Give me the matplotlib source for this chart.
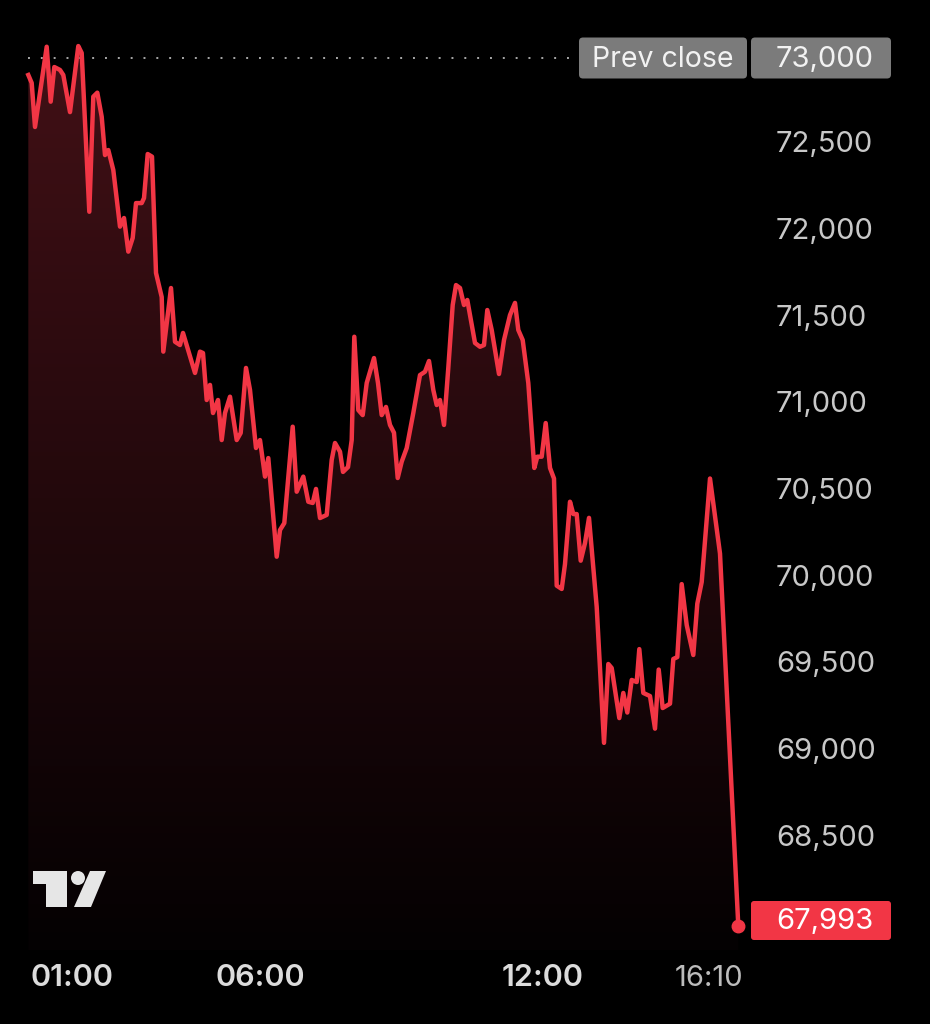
import numpy as np
import matplotlib
matplotlib.use("Agg")
import matplotlib.pyplot as plt
from matplotlib.patches import FancyBboxPatch, Rectangle, Circle, Polygon

plt.rcParams["font.family"] = ["Inter", "DejaVu Sans"]

# Data (bar position along the time axis, price)
bar_pos = [28.3, 31.7, 35, 46.7, 50.7, 54.3, 60, 63.3, 70, 78.3, 81.7, 89.3, 93.3, 97.3,
           101.7, 105, 108.3, 113.3, 120, 124, 128.3, 132.7, 136, 141.7, 144, 147.7, 152,
           156, 161.7, 163.3, 171, 175, 180, 183, 195, 200, 203, 206.7, 210, 213, 218,
           221.7, 225, 230, 236.7, 240.7, 246, 250, 256, 260, 265, 268.3, 276.7, 280,
           284.3, 292.7, 296.7, 303.3, 308.3, 312.7, 316, 320, 326.7, 331.7, 335, 340,
           343, 348, 351.7, 354.3, 358.3, 362.7, 366.7, 374, 378, 381.7, 386, 390, 394,
           397.7, 401.7, 406.7, 413.3, 420, 425, 429, 433.3, 436.7, 440, 444, 448.3,
           452.7, 456, 460, 464, 467.3, 475, 480, 484, 487.3, 491.7, 499, 504, 510, 515,
           518.3, 522.7, 528.3, 534.3, 537.3, 541.7, 545.7, 550, 554, 556.7, 561.7, 565,
           570, 573.3, 576.7, 580.7, 585, 589, 596.7, 604, 608.3, 611.7, 619.3, 623.3,
           627.3, 631.7, 636.7, 639.3, 643.3, 650, 655, 658.7, 662.7, 670, 673.3, 677.3,
           681.7, 686.7, 693.3, 697.3, 701.7, 710, 720, 738.3]
price = [72902, 72856, 72602, 73065, 72748, 72948, 72931, 72902, 72688, 73069, 73029,
         72113, 72777, 72800, 72661, 72440, 72469, 72354, 72027, 72077, 71883, 71962,
         72163, 72163, 72192, 72446, 72431, 71760, 71621, 71306, 71673, 71363, 71344,
         71414, 71183, 71306, 71298, 71027, 71114, 70952, 71027, 70796, 70952, 71046,
         70796, 70837, 71212, 71085, 70750, 70796, 70585, 70692, 70123, 70277, 70317,
         70873, 70498, 70585, 70440, 70433, 70514, 70346, 70364, 70681, 70779, 70729,
         70612, 70640, 70796, 71392, 70969, 70940, 71125, 71269, 71125, 70940, 70987,
         70883, 70838, 70577, 70671, 70750, 70952, 71171, 71190, 71252, 71085, 70998,
         71027, 70883, 71212, 71575, 71690, 71673, 71575, 71604, 71356, 71334, 71344,
         71546, 71431, 71177, 71373, 71517, 71587, 71431, 71373, 71125, 70635, 70700,
         70700, 70894, 70635, 70574, 69956, 69937, 70081, 70440, 70369, 70369, 70100,
         70202, 70347, 69833, 69049, 69504, 69481, 69192, 69337, 69224, 69412, 69400,
         69590, 69337, 69319, 69131, 69472, 69250, 69275, 69533, 69544, 69965, 69729,
         69556, 69852, 69977, 70574, 70141, 67993]

prev_close = 73000
last_price = 67993
y_ticks = [72500, 72000, 71500, 71000, 70500, 70000, 69500, 69000, 68500]
x_tick_pos = [72, 260, 543, 709]
x_tick_labels = ["01:00", "06:00", "12:00", "16:10"]

RED = "#f23645"
BOX_GREY = "#7b7b7b"
PX = 500 / 86.67  # price units per pixel


def py(pix):
    # price value sitting at a given pixel row
    return prev_close - (pix - 58) * PX


fig = plt.figure(figsize=(9.3, 10.24), dpi=100, facecolor="black")
ax = fig.add_axes([0, 0, 1, 1])
ax.set_facecolor("black")
ax.set_xlim(0, 930)
ax.set_ylim(py(1024), py(0))
ax.axis("off")

x = np.array(bar_pos)
y = np.array(price)

# gradient fill under the line
fill_bottom = py(950)
poly = ax.fill_between(x, y, fill_bottom, color="none", lw=0)
top = y.max()
grad = np.linspace(1, 0, 256).reshape(-1, 1)
c_top = np.array([66, 16, 22]) / 255
c_bot = np.array([4, 1, 2]) / 255
img = c_bot + (c_top - c_bot) * grad[..., None]
im = ax.imshow(img, extent=[x[0], x[-1], fill_bottom, top], aspect="auto",
               origin="upper", zorder=1)
im.set_clip_path(poly.get_paths()[0], transform=ax.transData)

ax.plot(x, y, color=RED, lw=3.2, solid_joinstyle="round", zorder=3)
ax.plot(x[-1], y[-1], "o", color=RED, ms=9, zorder=4)

# previous close dotted line
ax.plot([28, 578], [prev_close, prev_close], color="#a8a8a8", lw=1.4,
        ls=(0, (1, 5.6)), zorder=2)

# price scale labels
for t in y_ticks:
    ax.text(776, t, f"{t:,}", color="#c8c8c8", fontsize=21, ha="left",
            va="center")

h_box = 41 * PX
ax.add_patch(FancyBboxPatch((579, prev_close - h_box / 2), 168, h_box,
                            boxstyle="round,pad=0,rounding_size=4",
                            mutation_aspect=PX, fc=BOX_GREY, ec="none", zorder=5))
ax.add_patch(FancyBboxPatch((751, prev_close - h_box / 2), 140, h_box,
                            boxstyle="round,pad=0,rounding_size=4",
                            mutation_aspect=PX, fc=BOX_GREY, ec="none", zorder=5))
ax.text(663, py(59), "Prev close", color="#f2f2f2", fontsize=20.5,
        ha="center", va="center", zorder=6)
ax.text(776, py(59), f"{prev_close:,}", color="#f2f2f2", fontsize=21,
        ha="left", va="center", zorder=6)

h_last = 39 * PX
last_mid = py(920.5)
ax.add_patch(FancyBboxPatch((751, last_mid - h_last / 2), 140, h_last,
                            boxstyle="round,pad=0,rounding_size=3",
                            mutation_aspect=PX, fc=RED, ec="none", zorder=5))
ax.text(776, py(921), f"{last_price:,}", color="white", fontsize=21,
        ha="left", va="center", zorder=6)

# time labels
y_time = py(978)
for pos, lab in zip(x_tick_pos, x_tick_labels):
    last = lab == x_tick_labels[-1]
    ax.text(pos, y_time, lab, color="#bcbcbc" if last else "#dcdcdc",
            fontsize=21 if last else 22, fontweight="normal" if last else "semibold",
            ha="center", va="center")

# TradingView-style logo (pixel overlay)
ov = fig.add_axes([0, 0, 1, 1], facecolor="none")
ov.set_xlim(0, 930)
ov.set_ylim(1024, 0)
ov.axis("off")
logo = "#e6e6e6"
ov.add_patch(Rectangle((33, 871), 34, 13, fc=logo, ec="none"))
ov.add_patch(Rectangle((46, 871), 21, 36, fc=logo, ec="none"))
ov.add_patch(Circle((78, 878), 7, fc=logo, ec="none"))
ov.add_patch(Polygon([(90, 871), (106, 871), (91, 907), (74, 907)], fc=logo, ec="none"))

fig.savefig("out.png", dpi=100, facecolor="black")
